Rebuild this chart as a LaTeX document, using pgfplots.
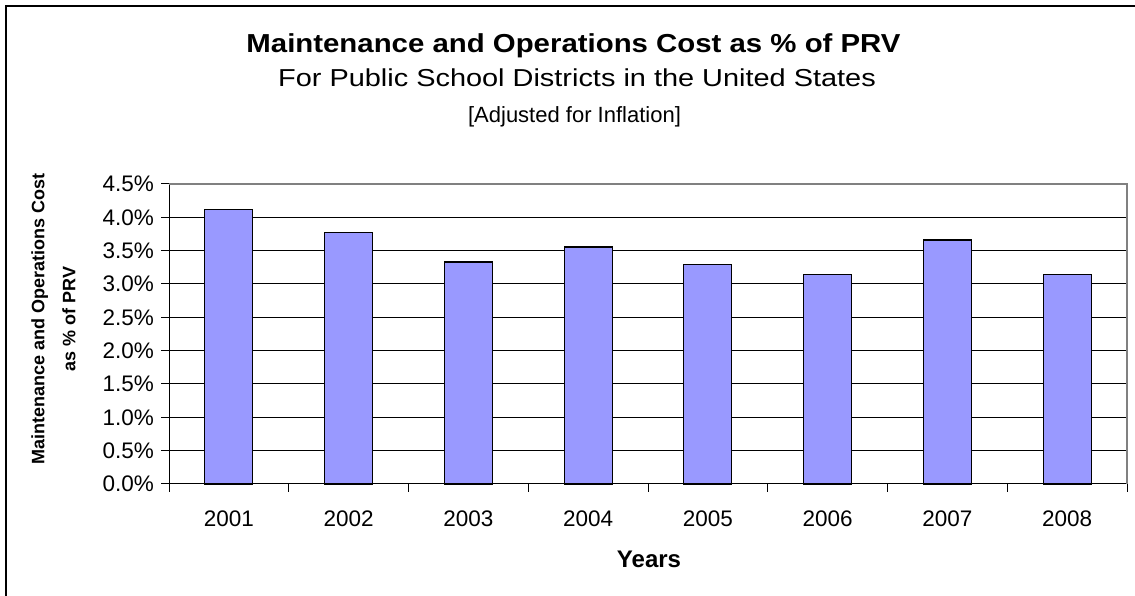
\documentclass[border=0pt]{standalone}
\usepackage{pgfplots}
\pgfplotsset{compat=1.18}
\usepackage{graphicx}
\usepackage{fontspec}
\setmainfont{Liberation Sans}
\definecolor{barblue}{HTML}{9999FF}
\definecolor{bordergray}{HTML}{808080}
\begin{document}
\begin{tikzpicture}[x=1pt,y=1pt]
\useasboundingbox (0,0) rectangle (1135,596);
\draw[line width=1.3pt] (6,0) -- (6,590) -- (1135,590);
\begin{axis}[
  at={(169pt,112pt)}, anchor=south west,
  scale only axis, width=958pt, height=300pt,
  xmin=-0.5, xmax=7.5, ymin=0, ymax=4.5,
  axis x line*=bottom, axis y line*=left,
  axis line style={-, black, line width=1pt},
  xtick={0,1,2,3,4,5,6,7},
  xticklabels={2001,2002,2003,2004,2005,2006,2007,2008},
  major x tick style={draw=none},
  minor xtick={-0.5,0.5,1.5,2.5,3.5,4.5,5.5,6.5,7.5},
  minor x tick style={black, line width=1pt},
  ytick={0,0.5,1,1.5,2,2.5,3,3.5,4,4.5},
  yticklabels={0.0\%,0.5\%,1.0\%,1.5\%,2.0\%,2.5\%,3.0\%,3.5\%,4.0\%,4.5\%},
  major y tick style={black, line width=1pt},
  tick align=outside,
  major tick length=8pt, minor tick length=8pt,
  ymajorgrids, major grid style={black, line width=1pt},
  yticklabel style={font=\fontsize{22.5}{27}\selectfont, anchor=east, inner sep=0pt, xshift=-7pt},
  xticklabel style={font=\fontsize{22.5}{27}\selectfont, anchor=base, inner sep=0pt, yshift=-35pt},
  ybar, bar width=48pt,
  clip=false,
]
\addplot[fill=barblue, draw=black, line width=1.2pt] coordinates {
  (0,4.12) (1,3.77) (2,3.33) (3,3.555) (4,3.29) (5,3.14) (6,3.66) (7,3.14)
};
\draw[bordergray, line width=1.5pt] (rel axis cs:0,1) -- (rel axis cs:1,1) -- (rel axis cs:1,0);
\end{axis}
\node[anchor=base, font=\bfseries\fontsize{26}{30}\selectfont] at (573.5,543) {\scalebox{1.13}[1]{Maintenance and Operations Cost as \% of PRV}};
\node[anchor=base, font=\fontsize{24.5}{30}\selectfont] at (577,509) {\scalebox{1.18}[1]{For Public School Districts in the United States}};
\node[anchor=base, font=\fontsize{22}{26}\selectfont] at (574.5,473) {[Adjusted for Inflation]};
\node[rotate=90, align=center, font=\bfseries\fontsize{18}{31}\selectfont] at (53.5,277) {Maintenance and Operations Cost\\as \% of PRV};
\node[anchor=base, font=\bfseries\fontsize{24}{28}\selectfont] at (649,28) {Years};
\end{tikzpicture}
\end{document}
